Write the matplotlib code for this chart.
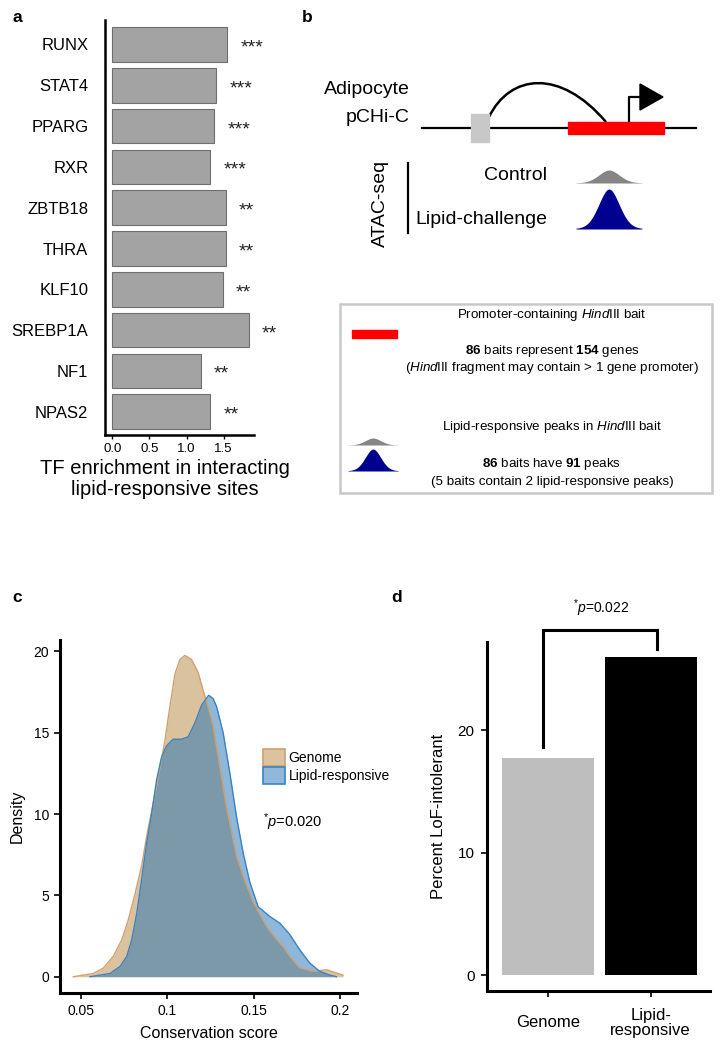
import matplotlib
matplotlib.use("Agg")
import matplotlib.pyplot as plt
import numpy as np
from matplotlib.patches import Rectangle, Polygon, PathPatch, Patch
from matplotlib.path import Path

plt.rcParams['font.family'] = ['Liberation Sans', 'DejaVu Sans']
plt.rcParams['mathtext.fontset'] = 'custom'
plt.rcParams['mathtext.rm'] = 'Liberation Sans'
plt.rcParams['mathtext.it'] = 'Liberation Sans:italic'
plt.rcParams['mathtext.bf'] = 'Liberation Sans:bold'

W, H = 724, 1050

# ---- panel a data ----
tf_names = ['RUNX', 'STAT4', 'PPARG', 'RXR', 'ZBTB18', 'THRA', 'KLF10',
            'SREBP1A', 'NF1', 'NPAS2']
tf_enrich = [1.55, 1.40, 1.37, 1.32, 1.53, 1.53, 1.49, 1.84, 1.19, 1.32]
tf_stars = ['***', '***', '***', '***', '**', '**', '**', '**', '**', '**']
tf_ticks = [0.0, 0.5, 1.0, 1.5]

# ---- panel c data (density curves) ----
genome_x = [0.0455, 0.0571, 0.0629, 0.0687, 0.0736, 0.0774, 0.0813, 0.0851,
            0.0880, 0.0919, 0.0958, 0.0986, 0.1015, 0.1044, 0.1073, 0.1102,
            0.1141, 0.1179, 0.1208, 0.1237, 0.1266, 0.1305, 0.1344, 0.1402,
            0.1450, 0.1498, 0.1575, 0.1633, 0.1672, 0.1710, 0.1768, 0.1845,
            0.1923, 0.2019]
genome_y = [0.0, 0.2, 0.53, 1.25, 2.27, 3.5, 5.1, 6.8, 8.6, 10.7, 12.9, 14.5,
            16.6, 18.6, 19.5, 19.75, 19.5, 18.7, 17.6, 16.6, 15.4, 12.9, 10.4,
            7.4, 5.9, 4.6, 3.1, 2.3, 1.86, 1.25, 0.55, 0.33, 0.43, 0.1]
lipid_x = [0.0552, 0.0668, 0.0726, 0.0765, 0.0794, 0.0823, 0.0851, 0.0880,
           0.0909, 0.0938, 0.0967, 0.0996, 0.1034, 0.1083, 0.1121, 0.1160,
           0.1199, 0.1240, 0.1266, 0.1286, 0.1324, 0.1363, 0.1402, 0.1440,
           0.1479, 0.1527, 0.1595, 0.1652, 0.1710, 0.1768, 0.1826, 0.1884,
           0.1942, 0.1981]
lipid_y = [0.0, 0.2, 0.63, 1.25, 2.27, 3.9, 5.95, 8.2, 10.0, 12.1, 13.5, 14.2,
           14.6, 14.6, 14.75, 15.6, 16.7, 17.3, 17.1, 16.6, 15.0, 12.5, 9.8,
           7.6, 5.8, 4.3, 3.7, 3.3, 2.6, 1.66, 0.84, 0.33, 0.1, 0.0]
cons_ticks = [0.05, 0.1, 0.15, 0.2]
cons_ticklabels = ['0.05', '0.1', '0.15', '0.2']
dens_ticks = [0, 5, 10, 15, 20]
p_cons = '0.020'

# ---- panel d data ----
lof_groups = ['Genome', 'Lipid-\nresponsive']
lof_pct = [17.7, 26.0]
lof_colors = ['#bebebe', '#000000']
lof_ticks = [0, 10, 20]
p_lof = '0.022'


def px_axes(fig, l, t, r, b):
    return fig.add_axes([l / W, 1 - b / H, (r - l) / W, (b - t) / H])


fig = plt.figure(figsize=(W / 100, H / 100), dpi=100)

# overlay axes in pixel coords for schematic + panel letters
ov = fig.add_axes([0, 0, 1, 1])
ov.set_xlim(0, W)
ov.set_ylim(H, 0)
ov.axis('off')
ov.set_zorder(-1)

for lab, x, y in [('a', 17, 17), ('b', 307, 17), ('c', 17, 597), ('d', 397, 597)]:
    ov.text(x, y, lab, fontsize=12.5, fontweight='bold', ha='center', va='center')

# ================= panel a =================
ax = px_axes(fig, 105, 20, 254, 435)
ypos = np.arange(len(tf_names))
ax.barh(ypos, tf_enrich, height=0.85, color='#a3a3a3', edgecolor='#6e6e6e',
        linewidth=0.8)
for i, (v, s) in enumerate(zip(tf_enrich, tf_stars)):
    ax.annotate(s, xy=(v, i), xytext=(9.5, -2.5), textcoords='offset points',
                ha='left', va='center', fontsize=14, color='#222222')
ax.set_ylim(len(tf_names) - 0.43, -0.6)
ax.set_xlim(-0.1, 1.91)
ax.set_yticks(ypos)
ax.set_yticklabels(tf_names, fontsize=12)
ax.set_xticks(tf_ticks)
ax.set_xticklabels(['%.1f' % t for t in tf_ticks], fontsize=9.5)
ax.tick_params(axis='y', length=0, pad=12)
ax.tick_params(axis='x', length=3, width=1, pad=3)
for sp in ['top', 'right']:
    ax.spines[sp].set_visible(False)
for sp in ['left', 'bottom']:
    ax.spines[sp].set_linewidth(1.8)
ax.set_xlabel('TF enrichment in interacting\nlipid-responsive sites', fontsize=14.5,
              linespacing=1.1)
ax.xaxis.set_label_coords(0.40, -0.058)
ax.xaxis.label.set_va('top')

# ================= panel b (schematic) =================
ov.text(410, 90, 'Adipocyte', fontsize=14, ha='right', va='center')
ov.text(410, 117, 'pCHi-C', fontsize=14, ha='right', va='center')
ov.plot([422, 696], [128, 128], color='black', lw=1.6)
ov.add_patch(Rectangle((471, 114), 18, 28, color='#c8c8c8', zorder=3))
ov.add_patch(Rectangle((568, 122), 96, 12, color='#ff0000', zorder=3))
arc = Path([(489, 117), (510, 74), (560, 68), (606, 122)],
           [Path.MOVETO, Path.CURVE4, Path.CURVE4, Path.CURVE4])
ov.add_patch(PathPatch(arc, fill=False, lw=1.8, color='black'))
ov.plot([629, 629, 641], [122, 97, 97], color='black', lw=1.6)
ov.add_patch(Polygon([(640, 84), (640, 110), (663, 97)], color='black'))

ov.text(380, 203, 'ATAC-seq', fontsize=14, rotation=90, ha='center', va='center')
ov.plot([408, 408], [163, 233], color='black', lw=1.6)
ov.text(547, 175, 'Control', fontsize=14, ha='right', va='center')
ov.text(547, 220, 'Lipid-challenge', fontsize=14, ha='right', va='center')


def draw_peak(cx, base, half_w, height, color):
    # schematic ATAC peak glyph
    xs = np.linspace(cx - half_w, cx + half_w, 60)
    u = (xs - cx) / (half_w * 0.32)
    ys = base - height * (np.exp(-0.5 * u ** 2) * 0.85 + 0.15 / (1 + u ** 2))
    ov.fill_between(xs, base, ys, color=color, lw=0)


draw_peak(609, 183, 33, 13, '#858585')
draw_peak(609, 229, 33, 40, '#000090')

ov.add_patch(Rectangle((340, 304), 372, 189, fill=False, edgecolor='#c8c8c8', lw=1.8))
ov.add_patch(Rectangle((352, 330), 45, 8, color='#ff0000'))
fs_box = 9.6
ov.text(552, 315, r'Promoter-containing $\mathit{Hind}$III bait', fontsize=fs_box,
        ha='center', va='center')
ov.text(552, 351, r'$\mathbf{86}$ baits represent $\mathbf{154}$ genes', fontsize=fs_box,
        ha='center', va='center')
ov.text(552, 368, r'($\mathit{Hind}$III fragment may contain > 1 gene promoter)',
        fontsize=fs_box, ha='center', va='center')
ov.text(552, 427, r'Lipid-responsive peaks in $\mathit{Hind}$III bait', fontsize=fs_box,
        ha='center', va='center')
ov.text(552, 464, r'$\mathbf{86}$ baits have $\mathbf{91}$ peaks', fontsize=fs_box,
        ha='center', va='center')
ov.text(552, 482, '(5 baits contain 2 lipid-responsive peaks)', fontsize=fs_box,
        ha='center', va='center')
draw_peak(373, 445, 25, 7, '#858585')
draw_peak(373, 471, 25, 22, '#000090')

# ================= panel c =================
axc = px_axes(fig, 60, 640, 357, 993)
axc.fill_between(genome_x, 0, genome_y, color='#b98741', alpha=0.5, lw=0)
axc.plot(genome_x, genome_y, color='#d0a070', lw=1.0)
axc.fill_between(lipid_x, 0, lipid_y, color='#1f71b5', alpha=0.5, lw=0)
axc.plot(lipid_x, lipid_y, color='#3c82c0', lw=1.0)
axc.set_xlim(0.0378, 0.21)
axc.set_ylim(-1.0, 20.7)
axc.set_xticks(cons_ticks)
axc.set_xticklabels(cons_ticklabels, fontsize=10)
axc.set_yticks(dens_ticks)
axc.set_yticklabels([str(t) for t in dens_ticks], fontsize=10)
axc.tick_params(length=4, width=1.2, pad=4)
for sp in ['top', 'right']:
    axc.spines[sp].set_visible(False)
for sp in ['left', 'bottom']:
    axc.spines[sp].set_linewidth(2.2)
axc.set_xlabel('Conservation score', fontsize=11.5, labelpad=6)
axc.set_ylabel('Density', fontsize=11.5, labelpad=6)
handles = [Patch(facecolor='#dcc3a0', edgecolor='#d0a070', lw=1.2, label='Genome'),
           Patch(facecolor='#8fb8da', edgecolor='#3c82c0', lw=1.2, label='Lipid-responsive')]
axc.legend(handles=handles, loc='upper left', bbox_to_anchor=(0.683, 0.69),
           frameon=False, fontsize=10, handlelength=1.6, handleheight=1.5,
           labelspacing=0.05, borderpad=0, handletextpad=0.25, borderaxespad=0)
axc.text(0.683, 0.485, r'$^{*}\mathit{p}$=' + p_cons, transform=axc.transAxes,
         fontsize=10.5, ha='left', va='center', clip_on=False)

# ================= panel d =================
axd = px_axes(fig, 487, 642, 710, 991)
xd = np.arange(len(lof_groups))
axd.bar(xd, lof_pct, width=0.9, color=lof_colors)
axd.set_xlim(-0.6, 1.58)
axd.set_ylim(-1.3, 27.2)
axd.set_xticks(xd)
axd.set_xticklabels(lof_groups, fontsize=12, linespacing=1.05)
for lbl in axd.get_xticklabels():
    lbl.set_va('center')
axd.set_yticks(lof_ticks)
axd.set_yticklabels([str(t) for t in lof_ticks], fontsize=11)
axd.tick_params(length=4, width=1.2, pad=5)
axd.tick_params(axis='x', pad=19)
for sp in ['top', 'right']:
    axd.spines[sp].set_visible(False)
for sp in ['left', 'bottom']:
    axd.spines[sp].set_linewidth(2.2)
axd.set_ylabel('Percent LoF-intolerant', fontsize=12, labelpad=8)
br_top = 28.2
axd.plot([-0.05, -0.05, 1.06, 1.06], [lof_pct[0] + 0.9, br_top, br_top, lof_pct[1] + 0.6],
         color='black', lw=2.2, clip_on=False, solid_joinstyle='miter')
axd.text(0.52, br_top + 1.8, r'$^{*}\mathit{p}$=' + p_lof, fontsize=10, ha='center',
         va='center', clip_on=False)

fig.savefig('out.png', dpi=100)
